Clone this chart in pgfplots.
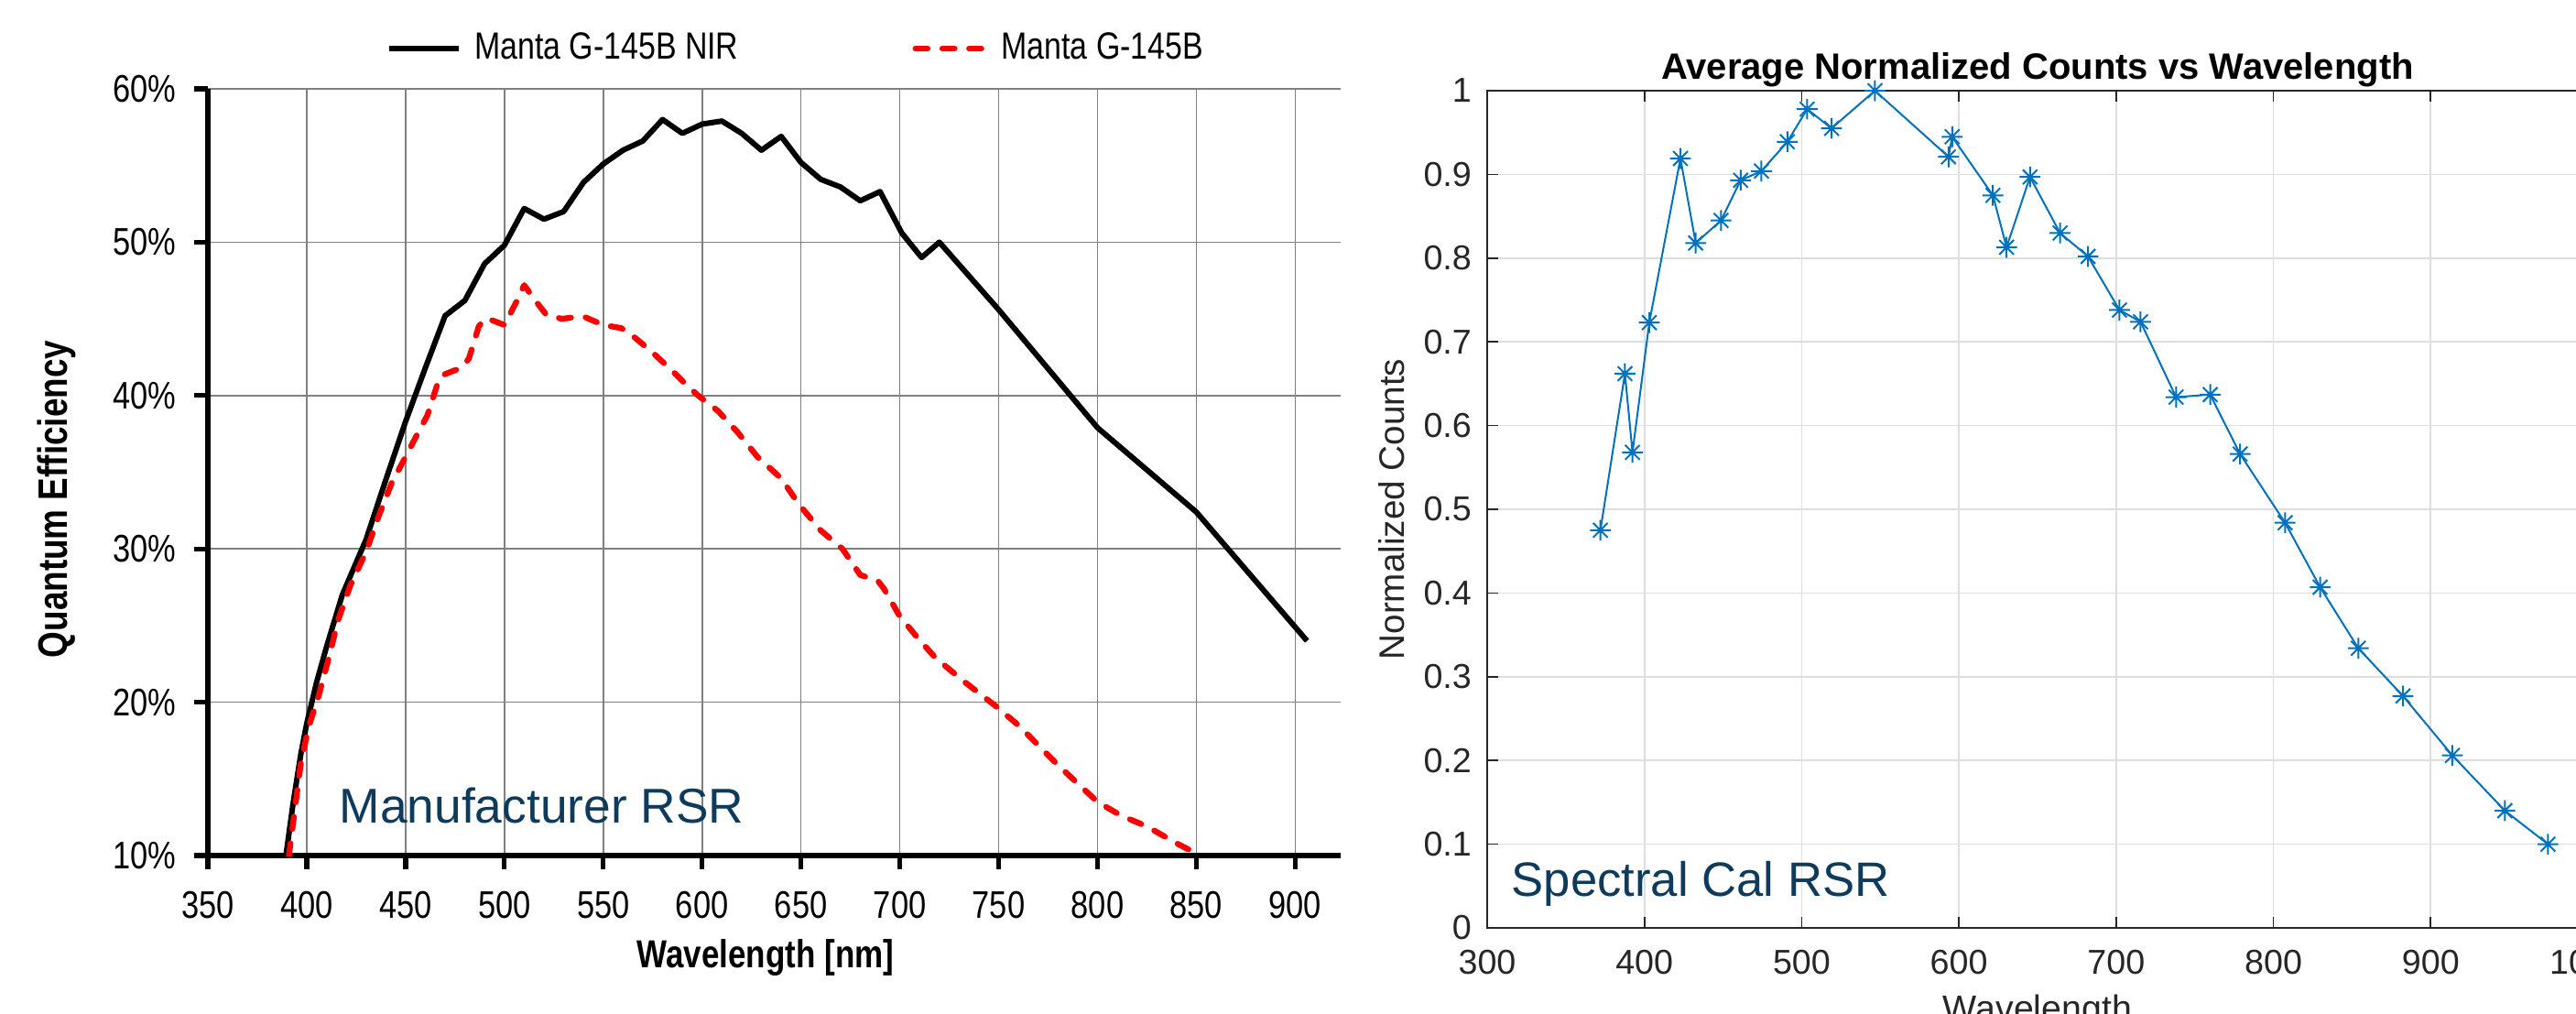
\documentclass[border=0pt]{standalone}
\usepackage{fontspec}
\setmainfont{Liberation Sans}
\newfontfamily\condfont[FakeStretch=0.82]{Liberation Sans}
\usepackage{pgfplots}
\pgfplotsset{compat=1.18}

\definecolor{mblue}{RGB}{0,114,189}
\definecolor{mgray}{RGB}{38,38,38}
\definecolor{rsrnavy}{RGB}{14,59,92}

% MATLAB style '*' marker: plus and cross together
\pgfdeclareplotmark{mstar}{%
  \pgfpathmoveto{\pgfqpoint{-\pgfplotmarksize}{0pt}}%
  \pgfpathlineto{\pgfqpoint{\pgfplotmarksize}{0pt}}%
  \pgfpathmoveto{\pgfqpoint{0pt}{-\pgfplotmarksize}}%
  \pgfpathlineto{\pgfqpoint{0pt}{\pgfplotmarksize}}%
  \pgfpathmoveto{\pgfqpoint{-0.7\pgfplotmarksize}{-0.7\pgfplotmarksize}}%
  \pgfpathlineto{\pgfqpoint{0.7\pgfplotmarksize}{0.7\pgfplotmarksize}}%
  \pgfpathmoveto{\pgfqpoint{-0.7\pgfplotmarksize}{0.7\pgfplotmarksize}}%
  \pgfpathlineto{\pgfqpoint{0.7\pgfplotmarksize}{-0.7\pgfplotmarksize}}%
  \pgfusepathqstroke}

\pgfplotsset{/pgf/number format/assume math mode=true}

\begin{document}
\begin{tikzpicture}

% ---------------- manufacturer QE curves ----------------
\begin{axis}[
  at={(68.1pt,-280.2pt)}, anchor=south west,
  scale only axis, width=371.1pt, height=251.1pt,
  xmin=350, xmax=923, ymin=10, ymax=60,
  axis lines*=left,
  axis line style={line width=1.6pt, black},
  xtick={350,400,...,900}, ytick={10,20,...,60},
  tick align=outside, major tick length=4.5pt,
  tick style={line width=1.6pt, black},
  grid=major, major grid style={line width=0.5pt, black!50},
  yticklabel={\pgfmathprintnumber{\tick}\%},
  tick label style={font=\condfont\fontsize{12.6}{14}\selectfont},
  yticklabel style={xshift=-2.3pt},
  xticklabel style={yshift=-3.6pt},
  xlabel={Wavelength [nm]},
  xlabel style={at={(axis description cs:0.4923,0)}, anchor=base, yshift=-36.6pt,
    font=\condfont\bfseries\fontsize{12.8}{14}\selectfont},
  ylabel={Quantum Efficiency},
  ylabel style={at={(axis description cs:-0.1334,0.4648)}, anchor=center,
    font=\condfont\bfseries\fontsize{13.5}{15}\selectfont},
  legend columns=2,
  legend cell align=left,
  legend image code/.code={\draw[#1] (0pt,0pt) -- (23pt,0pt);},
  legend style={at={(0.1568,1.0526)}, anchor=west, draw=none, fill=none,
    inner sep=0pt, font=\condfont\fontsize{12.4}{14}\selectfont,
    /tikz/every odd column/.append style={column sep=2.2pt},
    /tikz/every even column/.append style={column sep=55pt}},
]
\addplot[black, line width=1.8pt, line join=round] coordinates {
  (389.5,10.0) (393,13.3) (397,16.6) (400,18.6) (405,21.3) (410,23.6)
  (418,27.0) (423,28.5) (430,30.6) (440,34.5) (450,38.3) (460,41.8)
  (470,45.2) (480,46.2) (490,48.6) (500,49.8) (510,52.2) (520,51.5)
  (530,52.0) (540,53.9) (550,55.1) (560,56.0) (570,56.6) (580,58.0)
  (590,57.1) (600,57.7) (610,57.9) (620,57.1) (630,56.0) (640,56.9)
  (650,55.2) (660,54.1) (670,53.6) (680,52.7) (690,53.3) (701,50.6)
  (711,49.0) (720,50.0) (750,45.6) (800,37.9) (850,32.4) (906,24.0)
};
\addlegendentry{Manta G-145B NIR}
\addplot[red, line width=1.9pt, line cap=round, line join=round,
  dash pattern=on 4pt off 4.8pt] coordinates {
  (391,10.0) (395,14.0) (397,16.0) (401,18.4) (406,20.4) (411,22.8)
  (416,25.4) (422,27.6) (430,29.8) (436,32.0) (443,34.3) (450,36.0)
  (456,37.5) (461,38.7) (467,41.1) (470,41.4) (478,41.8) (482,42.4)
  (487,44.5) (490,45.0) (494,44.9) (500,44.6) (506,46.1) (510,47.2)
  (515,46.3) (521,45.3) (529,45.0) (535,45.1) (541,45.1) (550,44.6)
  (559,44.4) (563,44.1) (575,42.8) (585,41.6) (592,40.7) (598,40.0)
  (608,39.0) (618,37.6) (628,36.0) (640,34.6) (649,32.9) (660,31.2)
  (671,30.0) (680,28.3) (689,27.9) (692,27.4) (700,25.6) (709,24.2)
  (718,22.9) (732,21.4) (748,19.8) (760,18.5) (770,17.2) (780,15.9)
  (790,14.7) (800,13.5) (812,12.6) (825,11.9) (840,10.8) (852,10.0)
};
\addlegendentry{Manta G-145B}
\end{axis}

% ---------------- measured spectral calibration ----------------
\begin{axis}[
  at={(487.2pt,-303.9pt)}, anchor=south west,
  scale only axis, width=360.6pt, height=274.2pt,
  xmin=300, xmax=1000, ymin=0, ymax=1,
  xtick={300,400,...,1000},
  ytick={0,0.1,0.2,0.3,0.4,0.5,0.6,0.7,0.8,0.9,1},
  axis line style={mgray, line width=0.5pt},
  tick style={mgray, line width=0.5pt},
  tick align=inside, major tick length=3.7pt,
  grid=major, major grid style={black!13, line width=0.5pt},
  /pgf/number format/1000 sep={},
  tick label style={font=\fontsize{11.3}{12}\selectfont, text=mgray},
  yticklabel style={xshift=-1.6pt},
  xticklabel style={yshift=-3.7pt},
  title={Average Normalized Counts vs Wavelength},
  title style={at={(0.5,1)}, anchor=base, yshift=-2.1pt,
    font=\bfseries\fontsize{12}{14}\selectfont},
  xlabel={Wavelength},
  xlabel style={at={(axis description cs:0.5,0)}, anchor=base, yshift=-30.3pt,
    font=\fontsize{11.8}{13}\selectfont, text=mgray},
  ylabel={Normalized Counts},
  ylabel style={at={(axis description cs:-0.0865,0.5)}, anchor=center,
    font=\fontsize{11.6}{13}\selectfont, text=mgray},
]
\addplot[mblue, line width=0.6pt, mark=mstar, mark size=3.4pt,
  mark options={solid, line width=0.6pt}] coordinates {
  (372,0.475) (387.6,0.662) (392.4,0.568) (403.1,0.723) (422.9,0.919)
  (432.6,0.818) (448.7,0.845) (461.2,0.893) (474.4,0.904) (490.9,0.939)
  (503.5,0.978) (519.0,0.955) (546.6,1.000) (593.4,0.921) (595.7,0.945)
  (621.6,0.875) (630.3,0.813) (645.2,0.897) (664.3,0.830) (682.1,0.802)
  (702.1,0.738) (715.5,0.724) (738.1,0.634) (759.8,0.637) (778.8,0.566)
  (807.4,0.484) (829.7,0.407) (854.0,0.334) (882.4,0.277) (913.8,0.206)
  (947.2,0.140) (974.6,0.100)
};
\end{axis}

% overlay captions
\begin{scope}[x=0.3pt, y=-0.3pt]
\node[anchor=base west, inner sep=0pt, text=rsrnavy,
  font=\fontsize{16}{18}\selectfont] at (370,898) {Manufacturer RSR};
\node[anchor=base west, inner sep=0pt, text=rsrnavy,
  font=\fontsize{15.8}{18}\selectfont] at (1650,978) {Spectral Cal RSR};
\end{scope}

\pgfresetboundingbox
\useasboundingbox (0pt,0pt) rectangle (843.9pt,-332.1pt);
\end{tikzpicture}
\end{document}
